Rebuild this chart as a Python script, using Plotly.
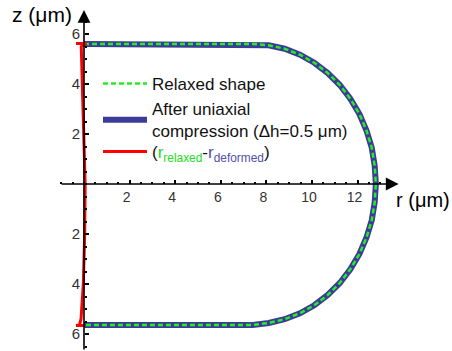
import plotly.graph_objects as go

# Cell contour (r, z) in micrometres
r_shape = [0, 2, 4, 6, 7.4, 8.10, 8.80, 9.47, 10.10, 10.69, 11.22, 11.68, 12.08, 12.39, 12.62, 12.75, 12.8,
           12.75, 12.62, 12.39, 12.08, 11.68, 11.22, 10.69, 10.10, 9.47, 8.80, 8.10, 7.4, 6, 4, 2, 0]
z_shape = [5.6, 5.6, 5.6, 5.6, 5.6, 5.55, 5.41, 5.17, 4.85, 4.44, 3.96, 3.41, 2.8, 2.14, 1.45, 0.73, 0,
           -0.73, -1.45, -2.14, -2.8, -3.41, -3.96, -4.44, -4.85, -5.17, -5.41, -5.56, -5.64, -5.64, -5.64, -5.64, -5.64]

# Difference r_relaxed - r_deformed
r_diff = [-0.35, 0.1, -0.12, -0.08, 0.0, 0.05, 0.03, -0.03, -0.13, -0.2, -0.35, 0.0]
z_diff = [5.62, 5.62, 5.5, 4.0, 2.0, 0.0, -2.0, -4.0, -5.4, -5.64, -5.66, -5.66]

x_tickvals = [2, 4, 6, 8, 10, 12]
x_ticktext = ["2", "4", "6", "8", "10", "12"]
y_tickvals = [-6, -4, -2, 2, 4, 6]
y_ticktext = ["6", "4", "2", "2", "4", "6"]
x_minor = [v / 2 for v in range(-2, 28)]
y_minor = [v / 2 for v in range(-13, 14)]

FONT = "Liberation Sans, Arial, sans-serif"
BLUE = "#3c3c96"
GREEN = "#22ee22"

fig = go.Figure()
fig.add_trace(go.Scatter(x=r_shape, y=z_shape, mode="lines",
                         line=dict(color=BLUE, width=6),
                         name="After uniaxial<br>compression (\u0394h=0.5 \u03bcm)", legendrank=2))
fig.add_trace(go.Scatter(x=r_shape, y=z_shape, mode="lines",
                         line=dict(color=GREEN, width=2.5, dash="5px,3px"),
                         name="Relaxed shape", legendrank=1))
fig.add_trace(go.Scatter(x=r_diff, y=z_diff, mode="lines",
                         line=dict(color="#ff0000", width=3), legend="legend2",
                         name="(<span style='color:#22dd22'>r<sub>relaxed</sub></span>-"
                              "<span style='color:#5050b0'>r<sub>deformed</sub></span>)", legendrank=3))

W, H = 452, 351
x0px, y0px, sx, sy = 84, 184, 22.8, 25.0
xr = [-x0px / sx, (W - x0px) / sx]
yr = [-(H - y0px) / sy, y0px / sy]

legend_common = dict(x=98 / W, xanchor="left", yanchor="top",
                     font=dict(size=17, color="#111"), bgcolor="rgba(0,0,0,0)",
                     tracegroupgap=0, itemwidth=44)

fig.update_layout(
    width=W, height=H, margin=dict(l=0, r=0, t=0, b=0, autoexpand=False),
    paper_bgcolor="white", plot_bgcolor="white",
    font=dict(family=FONT, color="#222"),
    showlegend=True,
    legend=dict(y=1 - 66 / H, **legend_common),
    legend2=dict(y=1 - 134 / H, **legend_common),
    xaxis=dict(range=xr, showgrid=False, zeroline=False, showline=False, automargin=False,
               anchor="free", position=(H - y0px) / H,
               tickvals=x_tickvals, ticktext=x_ticktext, ticks="inside", ticklen=4,
               ticklabelstandoff=3, ticklabelshift=-3,
               tickcolor="black", tickwidth=1.5, tickfont=dict(size=14, color="#333"),
               minor=dict(tickvals=x_minor, ticks="inside", ticklen=2, tickcolor="black", tickwidth=1.5)),
    yaxis=dict(range=yr, showgrid=False, zeroline=False, showline=False, automargin=False,
               anchor="free", position=x0px / W,
               tickvals=y_tickvals, ticktext=y_ticktext, ticks="inside", ticklen=4,
               ticklabelstandoff=4,
               tickcolor="black", tickwidth=1.5, tickfont=dict(size=15, color="#333"),
               minor=dict(tickvals=y_minor, ticks="inside", ticklen=2, tickcolor="black", tickwidth=1.5)),
    annotations=[
        dict(x=13.8, y=0, ax=-1.05, ay=0, xref="x", yref="y", axref="x", ayref="y",
             showarrow=True, arrowhead=2, arrowsize=1.6, arrowwidth=1.6, arrowcolor="black", text=""),
        dict(x=0, y=6.96, ax=0, ay=yr[0], xref="x", yref="y", axref="x", ayref="y",
             showarrow=True, arrowhead=2, arrowsize=1.6, arrowwidth=1.6, arrowcolor="black", text=""),
        dict(x=10 / W, y=1 - 1 / H, xref="paper", yref="paper", xanchor="left", yanchor="top",
             text="z (\u03bcm)", showarrow=False, font=dict(size=21, color="black")),
        dict(x=1, y=1 - 200 / H, xref="paper", yref="paper", xanchor="right", yanchor="middle",
             text="r (\u03bcm)", showarrow=False, font=dict(size=20, color="black")),
    ],
)

fig.write_html("out.html", config={"displayModeBar": False},
               post_script="document.body.style.margin='0';")
